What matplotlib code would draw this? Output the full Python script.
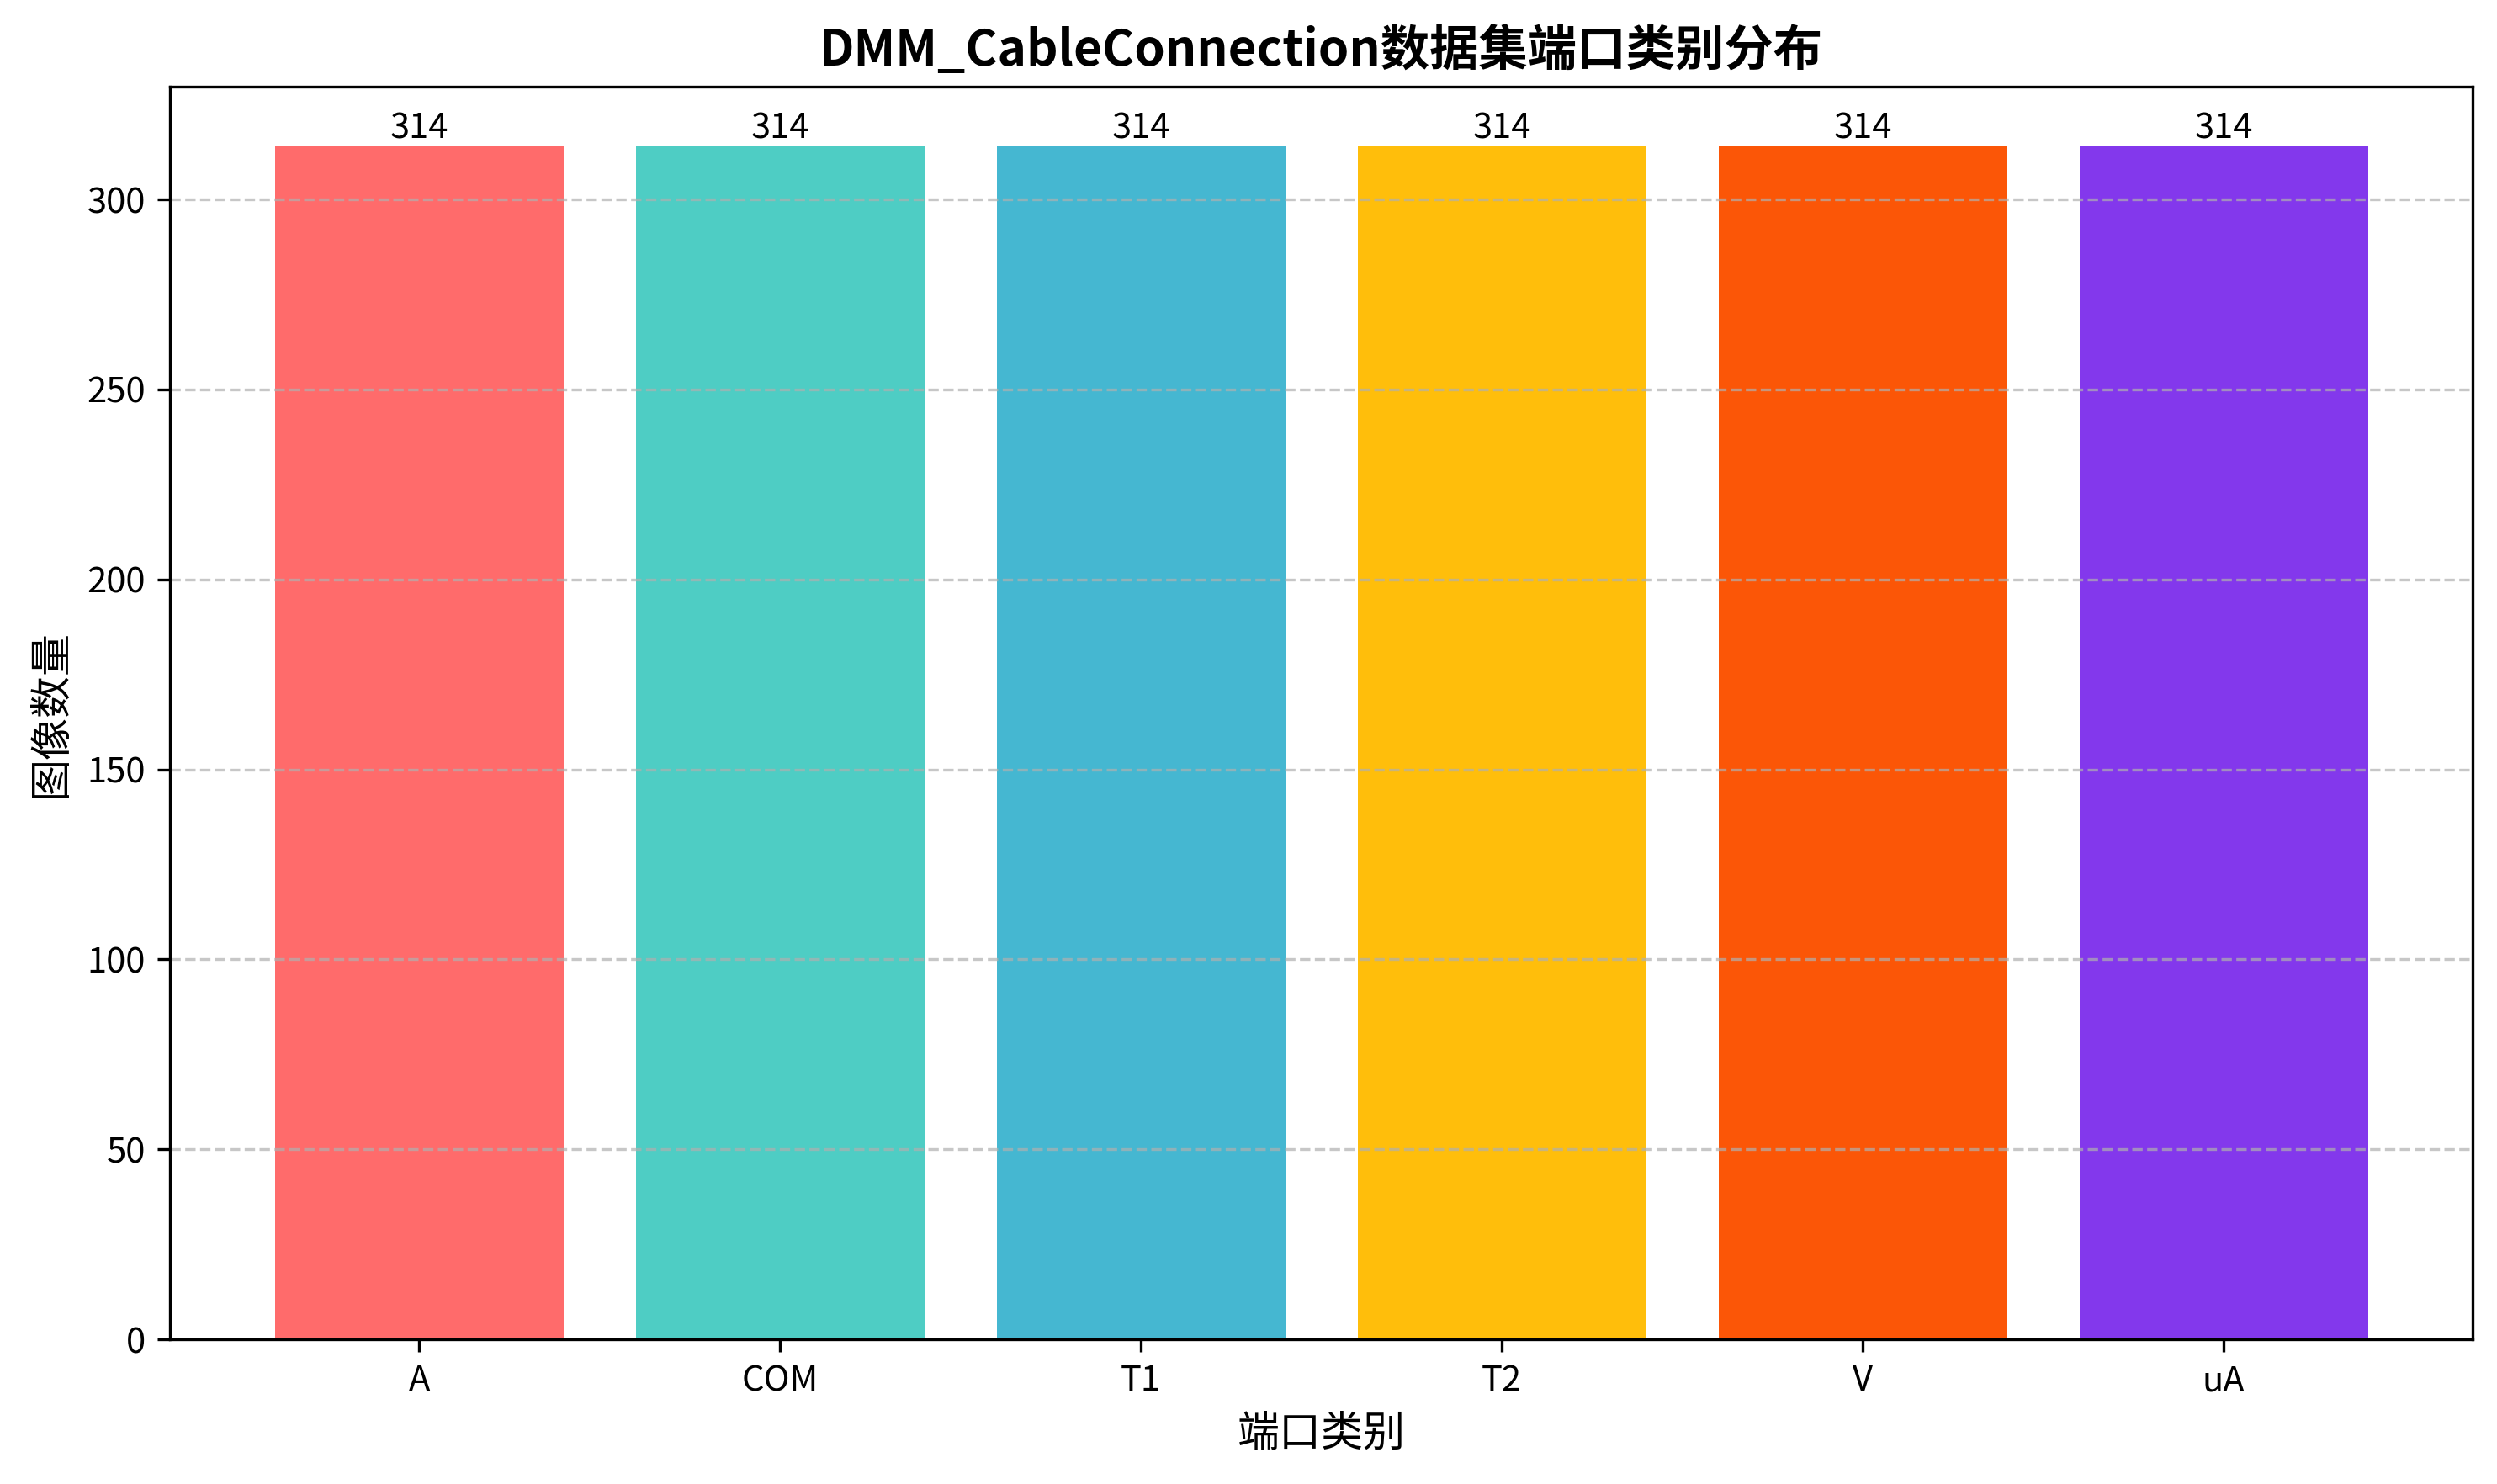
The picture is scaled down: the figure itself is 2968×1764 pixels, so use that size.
import matplotlib.pyplot as plt

plt.rcParams['font.family'] = ['Noto Sans CJK SC', 'DejaVu Sans']

ports = ['A', 'COM', 'T1', 'T2', 'V', 'uA']
counts = [314, 314, 314, 314, 314, 314]
colors = ['#FF6B6B', '#4ECDC4', '#45B7D1', '#FFBE0B', '#FB5607', '#8338EC']

fig = plt.figure(figsize=(2968 / 300, 1764 / 300), dpi=300)
ax = fig.add_axes([0.0681, 0.0975, 0.9222, 0.8441])

bars = ax.bar(ports, counts, color=colors)
for b in bars:
    h = b.get_height()
    ax.text(b.get_x() + b.get_width() / 2, h, str(int(h)),
            ha='center', va='bottom', fontsize=10)

ax.set_ylim(0, max(counts) * 1.05)
ax.grid(axis='y', linestyle='--', alpha=0.7)
ax.set_axisbelow(False)
for s in ax.spines.values():
    s.set_zorder(5)
ax.set_title('DMM_CableConnection数据集端口类别分布', fontsize=14, fontweight='bold')
ax.set_xlabel('端口类别', fontsize=12)
ax.set_ylabel('图像数量', fontsize=12)

fig.savefig('out.png', dpi=300)
